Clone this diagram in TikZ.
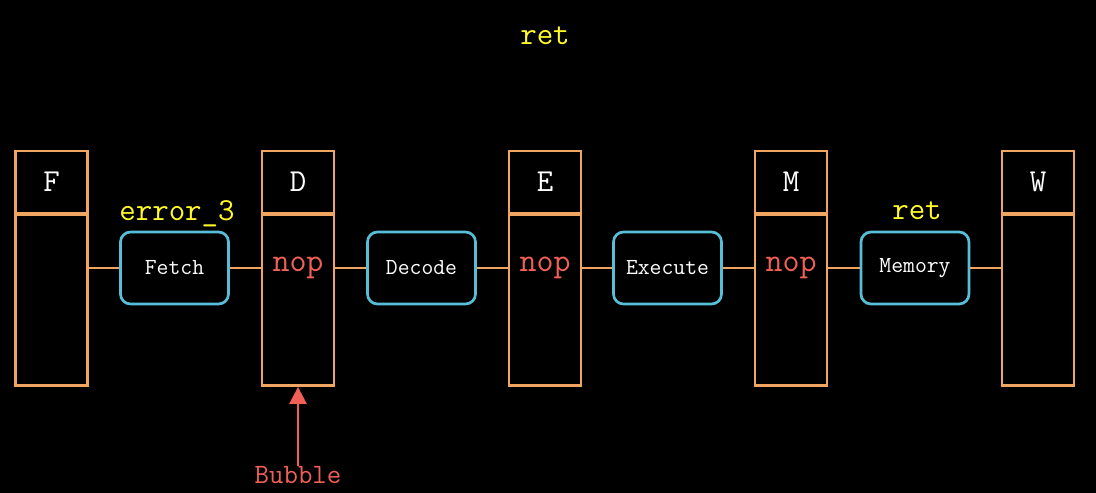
\documentclass[tikz,border=0pt]{standalone}
\usepackage{fontspec}
\usetikzlibrary{arrows.meta}
\definecolor{regorange}{RGB}{240,166,96}
\definecolor{stagecyan}{RGB}{86,190,214}
\definecolor{bubblered}{RGB}{240,96,86}
\definecolor{instryellow}{RGB}{255,250,40}
\begin{document}
\begin{tikzpicture}[x=1pt,y=-1pt,
  reghead/.style={draw=regorange, line width=2.9pt, minimum width=72pt, minimum height=62pt,
    inner sep=0pt, text=white, font=\ttfamily\fontsize{32}{34}\selectfont},
  regbody/.style={draw=regorange, line width=2.9pt, minimum width=72pt, minimum height=171pt,
    inner sep=0pt, anchor=north},
  stage/.style={draw=stagecyan, line width=2.7pt, rounded corners=10pt, minimum width=108pt,
    minimum height=72pt, inner sep=0pt, text=white, font=\ttfamily\fontsize{23}{25}\selectfont},
  wire/.style={draw=regorange, line width=2.9pt},
  nopval/.style={text=bubblered, font=\ttfamily\fontsize{33}{35}\selectfont, inner sep=0pt},
  instr/.style={text=instryellow, font=\ttfamily\fontsize{32}{34}\selectfont, inner sep=0pt},
  bubblelbl/.style={text=bubblered, font=\ttfamily\fontsize{28}{30}\selectfont, inner sep=0pt}]
\fill[black] (0,0) rectangle (1096,493);
\useasboundingbox (0,0) rectangle (1096,493);

% pipeline registers: header cell and body cell
\foreach \n/\x in {F/51.5, D/298, E/545, M/791, W/1038} {
  \node[reghead] (\n h) at (\x,182) {\n};
  \node[regbody] (\n b) at (\x,213) {};
}

% stage logic blocks
\node[stage] (fetch)   at (174.5,268) {Fetch};
\node[stage] (decode)  at (421.5,268) {Decode};
\node[stage] (execute) at (667.5,268) {Execute};
\node[stage] (memory)  at (915,268)   {Memory};

% wires between registers and stages
\draw[wire] (fetch.west) -- (fetch.west -| Fb.east);
\draw[wire] (fetch.east) -- (fetch.east -| Db.west);
\draw[wire] (decode.west) -- (decode.west -| Db.east);
\draw[wire] (decode.east) -- (decode.east -| Eb.west);
\draw[wire] (execute.west) -- (execute.west -| Eb.east);
\draw[wire] (execute.east) -- (execute.east -| Mb.west);
\draw[wire] (memory.west) -- (memory.west -| Mb.east);
\draw[wire] (memory.east) -- (memory.east -| Wb.west);

% register contents
\node[nopval] (nopD) at (298,268) {nop};
\node[nopval] (nopE) at (545,268) {nop};
\node[nopval] (nopM) at (791,268) {nop};

% instructions in flight
\node[instr] (insFetch) at (177,214) {error\_3};
\node[instr] (insMem)   at (917,211) {ret};
\node[instr] (insNext)  at (545,36)  {ret};

% bubble insertion
\node[bubblelbl] (bubble) at (298,475) {Bubble};
\draw[bubblered, line width=2.6pt, -{Triangle[width=17pt,length=17pt]}]
  (bubble.north) -- (Db.south);
\end{tikzpicture}
\end{document}
